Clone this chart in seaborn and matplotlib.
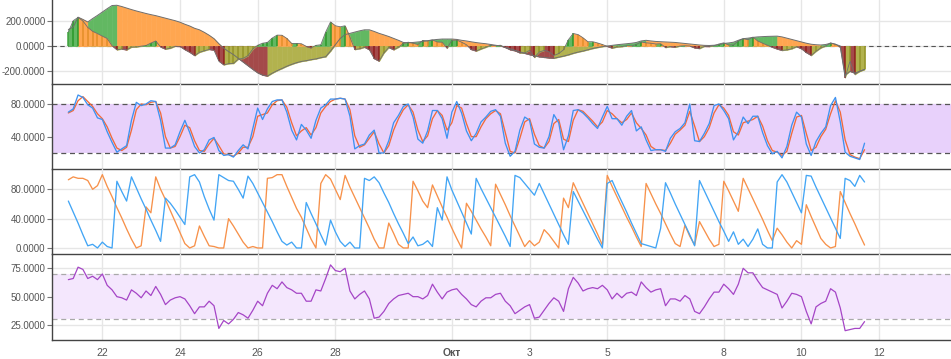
import matplotlib
matplotlib.use("Agg")
import matplotlib.pyplot as plt
import matplotlib.dates as mdates
from matplotlib.ticker import FormatStrFormatter
import numpy as np
import pandas as pd
import seaborn as sns

sns.set_theme(style="white")
plt.rcParams['font.family'] = ['Liberation Sans', 'DejaVu Sans']

# ---------------- data (3-hour samples) ----------------
START = "2019-09-21 03:00"
FREQ = "3h"

osc_signal = [130, 150, 228, 210, 190, 217, 242, 269, 295, 320,
              322, 312, 300, 288, 277, 267, 257, 248, 240, 230,
              220, 210, 200, 188, 172, 158, 140, 128, 108, 85,
              58, 18, -17, -44, -68, -98, -127, -156, -185, -212,
              -230, -238, -215, -195, -178, -160, -145, -132, -122, -116,
              -108, -102, -92, -85, -40, 10, 60, 90, 100, 110,
              120, 128, 128, 115, 100, 88, 75, 60, 45, 28,
              25, 28, 32, 36, 42, 48, 52, 55, 55, 55,
              52, 45, 40, 33, 27, 22, 18, 12, 6, 0,
              -10, -22, -34, -46, -58, -68, -78, -85, -90, -94,
              -97, -88, -80, -70, -58, -48, -40, -30, -20, -12,
              -5, 0, 5, 10, 14, 18, 22, 28, 40, 45,
              40, 36, 34, 32, 30, 28, 24, 20, 16, 12,
              8, 5, 4, 6, 10, 20, 24, 30, 45, 58,
              62, 68, 72, 74, 76, 77, 78, 72, 62, 52,
              42, 32, 22, 14, 10, 8, 12, 22, 14, 0,
              -230, -200, -215, -200, -185]

osc_hist = [110, 200, 226, 198, 147, 116, 98, 78, 59, 2,
            -30, -24, -31, -9, -8, -1, 4, 23, 40, -8,
            -25, -18, -2, -4, -29, -50, -76, -50, -38, -27,
            -33, -120, -149, -140, -138, -104, -98, -76, -24, 6,
            22, 28, 63, 86, 85, 60, 20, 20, 18, -3,
            -15, 5, 10, 110, 190, 160, 152, 160, 70, -28,
            -22, -10, -30, -100, -120, -55, -12, -30, -10, 20,
            30, 22, 12, 44, 40, 48, 32, 30, -18, 45,
            47, 30, 10, -28, -40, -24, -10, 7, 2, 6,
            -12, -30, -38, -55, -55, -35, -90, -48, -35, -45,
            -75, -60, -30, 50, 99, 90, 65, 34, 34, 24,
            12, -3, -17, -8, -5, 3, 0, 12, 32, 25,
            22, 16, 18, -12, -5, -10, 0, 2, 0, -15,
            -20, -3, -4, 2, 16, 25, 8, 8, 40, 58,
            50, 70, 40, 22, 6, -10, -24, -35, -31, -22,
            -6, -22, -52, -75, -42, -15, 0, 25, 14, -10,
            -250, -120, -225, -200, -185]

stoch_k = [70, 74, 91, 88, 79, 75, 63, 61, 46, 33,
           21, 25, 29, 60, 82, 78, 80, 84, 83, 60,
           26, 26, 30, 46, 60, 45, 28, 20, 24, 36,
           39, 23, 17, 18, 15, 23, 30, 25, 50, 75,
           61, 74, 83, 85, 85, 70, 48, 36, 55, 48,
           38, 60, 75, 79, 86, 86, 87, 86, 65, 25,
           29, 31, 42, 48, 20, 20, 35, 57, 66, 77,
           80, 64, 37, 32, 47, 72, 72, 62, 38, 70,
           83, 69, 47, 35, 44, 58, 64, 71, 73, 65,
           32, 16, 22, 48, 64, 60, 31, 27, 26, 40,
           67, 57, 24, 41, 72, 73, 69, 63, 56, 50,
           64, 77, 62, 62, 54, 65, 72, 47, 52, 36,
           23, 24, 24, 22, 38, 46, 50, 57, 80, 35,
           34, 44, 56, 78, 80, 72, 62, 36, 46, 64,
           56, 65, 65, 45, 29, 19, 22, 14, 28, 54,
           70, 64, 31, 17, 34, 44, 52, 78, 88, 58,
           21, 16, 14, 12, 32]

stoch_d = [69, 72, 84, 89, 83, 77, 68, 62, 52, 38,
           26, 23, 27, 48, 73, 80, 79, 82, 83, 69,
           40, 26, 28, 40, 54, 51, 35, 23, 22, 31,
           38, 29, 19, 18, 16, 20, 27, 27, 40, 65,
           67, 69, 79, 84, 85, 76, 57, 41, 47, 51,
           42, 51, 69, 77, 83, 86, 87, 86, 73, 41,
           27, 30, 38, 46, 31, 20, 29, 48, 62, 73,
           79, 70, 48, 34, 41, 62, 72, 66, 48, 57,
           78, 75, 56, 40, 40, 52, 62, 68, 72, 68,
           45, 22, 20, 38, 58, 62, 43, 29, 26, 34,
           56, 61, 37, 34, 60, 73, 71, 65, 59, 52,
           58, 72, 68, 62, 57, 61, 69, 57, 50, 42,
           28, 24, 24, 23, 32, 43, 48, 54, 71, 53,
           34, 40, 51, 69, 79, 75, 66, 46, 42, 57,
           59, 61, 65, 53, 35, 23, 21, 17, 22, 44,
           64, 66, 44, 23, 27, 40, 49, 68, 84, 70,
           36, 18, 15, 13, 24]

aroon_up = [93, 97, 95, 95, 92, 80, 85, 100, 84, 70,
            55, 41, 26, 12, 0, 3, 56, 48, 97, 80,
            66, 51, 36, 21, 6, 0, 3, 30, 16, 3,
            2, 0, 0, 40, 30, 19, 8, 0, 2, 0,
            0, 95, 96, 100, 100, 84, 69, 54, 42, 27,
            12, 0, 88, 100, 94, 80, 66, 99, 83, 69,
            55, 41, 27, 12, 0, 0, 34, 20, 5, 0,
            0, 91, 78, 64, 55, 86, 71, 56, 42, 27,
            13, 0, 61, 50, 38, 26, 15, 3, 87, 73,
            59, 44, 30, 16, 2, 10, 3, 8, 25, 18,
            9, 0, 68, 55, 89, 75, 61, 47, 33, 19,
            4, 99, 84, 70, 56, 42, 29, 15, 2, 88,
            74, 60, 47, 33, 19, 6, 2, 31, 16, 4,
            36, 24, 12, 2, 5, 91, 78, 64, 50, 95,
            81, 67, 53, 39, 24, 10, 27, 18, 8, 0,
            10, 5, 59, 43, 28, 13, 5, 0, 2, 77,
            62, 47, 33, 18, 4]

aroon_down = [64, 49, 34, 18, 3, 5, 0, 8, 2, 0,
              91, 77, 64, 97, 82, 67, 53, 38, 24, 9,
              68, 61, 52, 42, 32, 97, 100, 90, 70, 53,
              38, 100, 96, 92, 91, 80, 68, 98, 88, 75,
              62, 49, 36, 22, 9, 4, 8, 0, 0, 62,
              47, 33, 18, 4, 38, 22, 9, 2, 8, 0,
              0, 95, 92, 97, 89, 75, 62, 47, 33, 20,
              6, 15, 3, 5, 10, 2, 55, 38, 97, 79,
              64, 49, 34, 19, 95, 81, 68, 55, 42, 29,
              16, 2, 99, 96, 88, 80, 72, 88, 74, 60,
              46, 32, 18, 5, 77, 64, 51, 38, 25, 12,
              0, 88, 92, 77, 63, 49, 34, 20, 6, 4,
              2, 0, 27, 89, 75, 60, 46, 32, 18, 3,
              92, 78, 64, 50, 36, 23, 9, 22, 5, 12,
              2, 12, 26, 5, 0, 0, 90, 100, 90, 76,
              62, 48, 99, 98, 83, 69, 55, 41, 27, 13,
              95, 92, 84, 99, 90]

rsi = [65, 66, 76, 74, 66, 68, 65, 70, 60, 56,
       50, 49, 47, 56, 53, 49, 55, 51, 59, 52,
       43, 47, 49, 50, 48, 42, 35, 41, 41, 46,
       42, 22, 29, 26, 30, 36, 34, 31, 38, 46,
       42, 53, 60, 57, 63, 58, 56, 53, 53, 46,
       46, 56, 55, 66, 78, 73, 72, 75, 55, 48,
       52, 55, 48, 31, 32, 37, 44, 48, 51, 52,
       53, 50, 50, 48, 51, 61, 54, 48, 54, 56,
       57, 52, 48, 43, 41, 46, 49, 49, 52, 53,
       46, 42, 35, 38, 41, 43, 31, 32, 38, 44,
       49, 46, 37, 57, 67, 62, 55, 57, 58, 57,
       60, 56, 48, 53, 49, 53, 54, 51, 63, 58,
       54, 56, 57, 42, 48, 48, 46, 51, 48, 37,
       35, 41, 48, 54, 54, 61, 57, 52, 61, 75,
       71, 71, 64, 58, 56, 54, 52, 40, 46, 53,
       52, 50, 37, 26, 41, 44, 46, 57, 54, 40,
       20, 21, 22, 22, 28]

tick_dates = ["2019-09-22", "2019-09-24", "2019-09-26", "2019-09-28", "2019-10-01",
              "2019-10-03", "2019-10-05", "2019-10-08", "2019-10-10", "2019-10-12"]
tick_labels = ["22", "24", "26", "28", "Окт", "3", "5", "8", "10", "12"]

stoch_band = (20, 80)
rsi_band = (30, 70)

# ---------------- frame ----------------
times = pd.date_range(START, periods=len(rsi), freq=FREQ)
df = pd.DataFrame({"time": times, "signal": osc_signal, "hist": osc_hist,
                   "k": stoch_k, "d": stoch_d, "up": aroon_up, "down": aroon_down,
                   "rsi": rsi})
xs = mdates.date2num(times.to_pydatetime())

fig = plt.figure(figsize=(9.51, 3.59), dpi=100)
fig.patch.set_facecolor("white")
L = 52.3 / 951
W = 1 - L


def px_axes(top, bottom):
    return fig.add_axes([L, 1 - bottom / 359, W, (bottom - top) / 359])


ax1 = px_axes(0, 84.3)
ax2 = px_axes(84.3, 168.5)
ax3 = px_axes(168.5, 254)
ax4 = px_axes(254, 340)
axes = [ax1, ax2, ax3, ax4]

LIGHT = {"pos_up": "#62b862", "pos_down": "#ffa650", "neg_down": "#a44a4a", "neg_up": "#b2b24e"}
DARK = {"pos_up": "#21931f", "pos_down": "#e08a22", "neg_down": "#8a1515", "neg_up": "#8f8f22"}


def seg_fill(ax, x, y, colors, z):
    for i in range(len(x) - 1):
        x0, x1, y0, y1 = x[i], x[i + 1], y[i], y[i + 1]
        rising = y1 >= y0
        if y0 * y1 < 0:
            xc = x0 + (x1 - x0) * (y0 / (y0 - y1))
            parts = [(x0, y0, xc, 0.0, y0), (xc, 0.0, x1, y1, y1)]
        else:
            parts = [(x0, y0, x1, y1, (y0 + y1) / 2)]
        for a, ya, b, yb, ref in parts:
            key = ("pos" if ref >= 0 else "neg") + ("_up" if rising else "_down")
            ax.fill_between([a, b], [ya, yb], 0, color=colors[key], lw=0.4,
                            edgecolor=colors[key], zorder=z)


xlim = (pd.Timestamp("2019-09-20 17:05"), pd.Timestamp("2019-10-13 20:25"))
grid_c = "#e6e6e6"

# ---- panel 1 ----
ax1.axhline(0, color="#555555", lw=0.8, ls=(0, (4, 3)), zorder=1)
sig = np.array(osc_signal, float)
hist = np.array(osc_hist, float)
seg_fill(ax1, xs, sig, LIGHT, 2)
seg_fill(ax1, xs, hist, LIGHT, 3)
bar_cols = []
for i in range(len(hist)):
    prev = hist[i - 1] if i > 0 else hist[i]
    key = ("pos" if hist[i] >= 0 else "neg") + ("_up" if hist[i] >= prev else "_down")
    bar_cols.append(DARK[key])
ax1.vlines(xs, 0, hist, colors=bar_cols, lw=1.1, zorder=4, alpha=0.85)
sns.lineplot(data=df, x="time", y="signal", ax=ax1, color="#6e6e6e", lw=0.7, zorder=5)
sns.lineplot(data=df, x="time", y="hist", ax=ax1, color="#6e6e6e", lw=0.6, zorder=5)
ax1.set_ylim(-302.8, 363.6)
ax1.set_yticks([-200, 0, 200])

# ---- panel 2 ----
ax2.axhspan(stoch_band[0], stoch_band[1], color="#e8d1fb", lw=0, zorder=1)
for v in stoch_band:
    ax2.axhline(v, color="#555555", lw=0.9, ls=(0, (4, 3)), zorder=2)
sns.lineplot(data=df, x="time", y="d", ax=ax2, color="#f26a3a", lw=0.95, zorder=3)
sns.lineplot(data=df, x="time", y="k", ax=ax2, color="#3f92f0", lw=0.95, zorder=4)
ax2.set_ylim(1.0, 104.1)
ax2.set_yticks([40, 80])

# ---- panel 3 ----
sns.lineplot(data=df, x="time", y="up", ax=ax3, color="#f7914a", lw=0.95, zorder=3)
sns.lineplot(data=df, x="time", y="down", ax=ax3, color="#42a5f5", lw=0.95, zorder=4)
ax3.set_ylim(-8.2, 108.4)
ax3.set_yticks([0, 40, 80])

# ---- panel 4 ----
ax4.axhspan(rsi_band[0], rsi_band[1], color="#f4e7fd", lw=0, zorder=1)
for v in rsi_band:
    ax4.axhline(v, color="#a9a9a9", lw=0.9, ls=(0, (4, 3)), zorder=2)
sns.lineplot(data=df, x="time", y="rsi", ax=ax4, color="#a545c6", lw=0.9, zorder=3)
ax4.set_ylim(11.8, 87.6)
ax4.set_yticks([25, 50, 75])

tick_pos = pd.to_datetime(tick_dates)
for ax in axes:
    ax.set_xlim(*xlim)
    ax.set_xticks(tick_pos)
    ax.set_xlabel("")
    ax.set_ylabel("")
    ax.yaxis.set_major_formatter(FormatStrFormatter("%.4f"))
    ax.grid(True, color=grid_c, lw=1.0, zorder=0)
    ax.set_axisbelow(True)
    ax.patch.set_alpha(0)
    for s in ("top", "right"):
        ax.spines[s].set_visible(False)
    for s in ("left", "bottom"):
        ax.spines[s].set_visible(True)
        ax.spines[s].set_color("#444444")
        ax.spines[s].set_linewidth(1.0)
        ax.spines[s].set_zorder(10)
    ax.tick_params(axis="y", which="major", left=True, length=3.5, width=0.8,
                   color="#777777", labelsize=7, labelcolor="#555555", pad=1.5)
    ax.tick_params(axis="x", bottom=False, length=0, labelsize=7.5, labelcolor="#555555")
    if ax is not ax4:
        ax.tick_params(axis="x", labelbottom=False)

ax4.set_xticklabels(tick_labels)
for lbl in ax4.get_xticklabels():
    if lbl.get_text() == "Окт":
        lbl.set_fontweight("bold")
ax4.tick_params(axis="x", pad=6)

fig.savefig("out.png", dpi=100, facecolor="white")
